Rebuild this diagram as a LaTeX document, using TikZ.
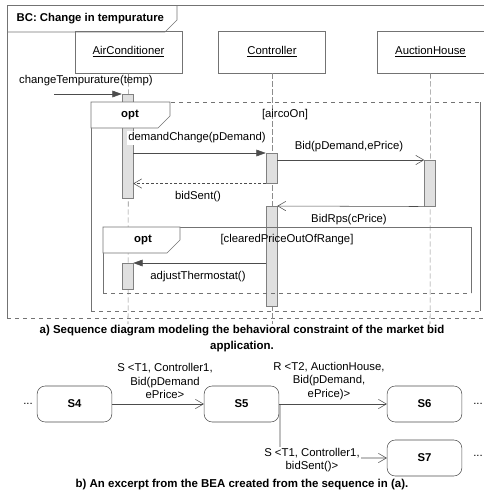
\documentclass[tikz,border=0pt]{standalone}
\usepackage{fontspec}
\setmainfont{Liberation Sans}
\usetikzlibrary{arrows.meta,positioning,calc}

\begin{document}
\begin{tikzpicture}
      [x=0.75pt,y=-0.75pt,
       font=\fontsize{8.5}{10}\selectfont,
       frame/.style={draw=black!55},
       tab/.style={draw=black!55,fill=white},
       lifebox/.style={rectangle,draw=black!55,minimum width=80pt,minimum height=31.5pt,inner sep=0pt},
       bar/.style={rectangle,draw=black!50,fill=black!12,minimum width=8.25pt,inner sep=0pt,anchor=north},
       lifeline/.style={draw=black!45,dash pattern=on 4pt off 2pt},
       call/.style={draw=black!70,-{Triangle[length=7pt,width=5pt]}},
       msg/.style={draw=black!70,-{Straight Barb[length=6pt,width=7pt]}},
       reply/.style={msg,dash pattern=on 2pt off 1.5pt},
       state/.style={rectangle,rounded corners=6pt,draw=black!70,minimum width=56pt,minimum height=27pt},
       caption/.style={font=\fontsize{8.6}{12}\selectfont\bfseries,align=center}]
      \useasboundingbox (0,0) rectangle (484,501);

      % outer frame
      \draw[frame] (7,318) -- (7,5) -- (484,5);
      \draw[frame,dashed] (7,318) -- (484,318);
      \draw[frame] (7,32) -- (165,32) -- (177,20) -- (177,5);
      \node[font=\fontsize{8.5}{10}\selectfont\bfseries,anchor=west] (bc) at (12,19) {BC: Change in tempurature};

      % lifelines
      \node (ac) at (128.5,52) [lifebox] {\underline{AirConditioner}};
      \node (ctrl) at (272,52) [lifebox] {\underline{Controller}};
      \node (ah) at (430.5,52) [lifebox] {\underline{AuctionHouse}};
      \coordinate (acEnd) at (128,324);
      \coordinate (ctrlEnd) at (272,324);
      \coordinate (ahEnd) at (430,324);
      \draw[lifeline] (ac.south) -- (acEnd);
      \draw[lifeline] (ctrl.south) -- (ctrlEnd);
      \draw[lifeline] (ah.south) -- (ahEnd);

      % activations
      \node (a1) at (127.5,94) [bar,minimum height=78pt] {};
      \node (c1) at (271.5,153) [bar,minimum height=22.5pt] {};
      \node (h1) at (430,160) [bar,minimum height=34.5pt] {};
      \node (c2) at (271.5,206) [bar,minimum height=75pt] {};
      \node (a2) at (127.5,263) [bar,minimum height=19.5pt] {};

      % opt [aircoOn]
      \draw[frame] (91,311) -- (91,102);
      \draw[frame] (480,102) -- (480,311);
      \draw[frame,dashed] (91,102) -- (480,102);
      \draw[frame,dashed] (91,311) -- (480,311);
      \draw[tab] (91,102) -- (91,128) -- (158,128) -- (170,116) -- (170,102) -- cycle;
      \node[font=\fontsize{8.5}{10}\selectfont\bfseries] (opt1) at (130,115) {opt};
      \node (g1) at (285,115) {[aircoOn]};

      % opt [clearedPriceOutOfRange]
      \draw[frame] (103,227) -- (471,227) -- (471,293);
      \draw[frame] (103,227) -- (103,293);
      \draw[frame,dashed] (103,293) -- (471,293);
      \draw[tab] (103,227) -- (103,253) -- (167,253) -- (180,240) -- (180,227) -- cycle;
      \node[font=\fontsize{8.5}{10}\selectfont\bfseries] (opt2) at (143,240) {opt};
      \node (g2) at (287,240) {[clearedPriceOutOfRange]};

      % messages
      \coordinate (start) at (54,94);
      \draw[call] (start) -- (a1.north west);
      \node (m1) at (86,81) {changeTempurature(temp)};
      \draw[call] (a1.east |- c1.north) -- (c1.north west);
      \node[fill=white,inner sep=1pt] (m2) at (197,138) {demandChange(pDemand)};
      \draw[msg] (c1.east |- h1.north) -- (h1.north west);
      \node (m3) at (349,147) {Bid(pDemand,ePrice)};
      \draw[reply] (c1.south west) -- (a1.east |- c1.south);
      \node (m4) at (198,197) {bidSent()};
      \draw[msg] (h1.south west) -- (c2.north east);
      \node (m5) at (349,220) {BidRps(cPrice)};
      \draw[call] (c2.west |- a2.north) -- (a2.north east);
      \node (m6) at (198,277) {adjustThermostat()};

      \node[caption] (capA) at (242,339) {a) Sequence diagram modeling the behavioral constraint of the market bid\\application.};

      % BEA excerpt
      \node (s4) at (74.5,404) [state] {\textbf{S4}};
      \node (s5) at (241.5,404) [state] {\textbf{S5}};
      \node (s6) at (424.5,404) [state] {\textbf{S6}};
      \node (s7) at (424.5,458) [state] {\textbf{S7}};
      \node (d4) at (28,404) {...};
      \node (d6) at (478,404) {...};
      \node (d7) at (478,456) {...};

      \draw[msg] (s4) -- (s5);
      \node[align=center] (t1) at (165,381) {S <T1, Controller1,\\Bid(pDemand\\ePrice>};
      \draw[msg] (s5) -- (s6);
      \node[align=center] (t2) at (329,381) {R <T2, AuctionHouse,\\Bid(pDemand,\\ePrice)>};
      \coordinate (fork) at (280,404);
      \draw[msg,rounded corners=8pt] (fork) |- (s7.west);
      \node[align=center,fill=white,inner sep=1pt] (t3) at (312,460) {S <T1, Controller1,\\bidSent()>};

      \node[caption] (capB) at (242,485) {b) An excerpt from the BEA created from the sequence in (a).};
\end{tikzpicture}
\end{document}
